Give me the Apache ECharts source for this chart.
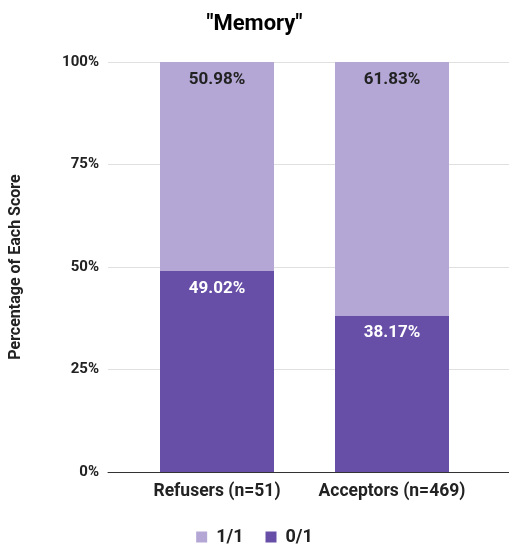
<!DOCTYPE html>
<html>
<head>
<meta charset="utf-8">
<script src="https://cdn.jsdelivr.net/npm/echarts@6/dist/echarts.min.js"></script>
<style>
    html, body { margin: 0; padding: 0; background: #fff; }
    #chart { width: 509px; height: 546px; }
</style>
</head>
<body>
<div id="chart"></div>
<script>
    // groups and percentages
    var groups = ["Refusers (n=51)", "Acceptors (n=469)"];
    var full = [50.98, 61.83];   // 1/1
    var zero = [49.02, 38.17];   // 0/1
    var yTicks = [0, 25, 50, 75, 100];

    var dark = "#674ea7";
    var light = "#b4a7d6";
    var font = "Roboto";

    var chart = echarts.init(document.getElementById("chart"));
    var option = {
        animation: false,
        textStyle: { fontFamily: font },
        title: {
            text: "\"Memory\"",
            left: "center",
            top: 8,
            textStyle: { fontSize: 22, fontWeight: "bold", color: "#000", fontFamily: font }
        },
        legend: {
            top: 523,
            left: "center",
            itemWidth: 11,
            itemHeight: 11,
            itemGap: 22,
            icon: "rect",
            data: ["1/1", "0/1"],
            textStyle: {
                fontSize: 18,
                fontWeight: "bold",
                color: "#222",
                fontFamily: font,
                padding: [0, 0, 0, 4]
            }
        },
        grid: [
            // bars
            { left: 129.5, right: 29.5, top: 62, bottom: 74 },
            // full-width gridlines and labels
            { left: 99, right: 0, top: 62, bottom: 74 }
        ],
        xAxis: [
            {
                type: "category",
                gridIndex: 0,
                data: groups,
                axisLine: { show: false },
                axisTick: { show: false },
                axisLabel: {
                    interval: 0,
                    hideOverlap: false,
                    margin: 11,
                    fontSize: 17.5,
                    fontWeight: "bold",
                    color: "#222",
                    fontFamily: font
                }
            },
            {
                type: "value",
                gridIndex: 1,
                min: 0,
                max: 1,
                axisLine: { show: true, lineStyle: { color: "#333", width: 1 } },
                axisTick: { show: false },
                axisLabel: { show: false },
                splitLine: { show: false }
            }
        ],
        yAxis: [
            {
                type: "value",
                gridIndex: 0,
                min: 0,
                max: 100,
                show: false
            },
            {
                type: "value",
                gridIndex: 1,
                min: 0,
                max: 100,
                interval: 25,
                name: "Percentage of Each Score",
                nameLocation: "middle",
                nameGap: 84,
                nameTextStyle: { fontSize: 16, fontWeight: "bold", color: "#222", fontFamily: font },
                axisLine: { show: false },
                axisTick: { show: false },
                axisLabel: {
                    margin: 9,
                    fontSize: 15,
                    fontWeight: "bold",
                    color: "#222",
                    fontFamily: font,
                    formatter: function(v) { return yTicks.indexOf(v) >= 0 ? v + "%" : ""; }
                },
                splitLine: { lineStyle: { color: "#e0e0e0", width: 1 } }
            }
        ],
        series: [
            {
                name: "0/1",
                type: "bar",
                stack: "s",
                xAxisIndex: 0,
                yAxisIndex: 0,
                barWidth: 114,
                data: zero,
                itemStyle: { color: dark },
                label: {
                    show: true,
                    position: "insideTop",
                    distance: 9,
                    color: "#fff",
                    fontSize: 17,
                    fontWeight: "bold",
                    fontFamily: font,
                    formatter: function(p) { return p.value.toFixed(2) + "%"; }
                }
            },
            {
                name: "1/1",
                type: "bar",
                stack: "s",
                xAxisIndex: 0,
                yAxisIndex: 0,
                barWidth: 114,
                data: full,
                itemStyle: { color: light },
                label: {
                    show: true,
                    position: "insideTop",
                    distance: 9,
                    color: "#222",
                    fontSize: 17,
                    fontWeight: "bold",
                    fontFamily: font,
                    formatter: function(p) { return p.value.toFixed(2) + "%"; }
                }
            }
        ]
    };
    chart.setOption(option);
</script>
</body>
</html>
